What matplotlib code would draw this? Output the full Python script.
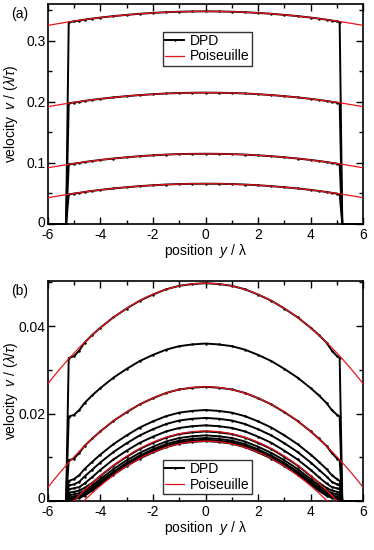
"""
Velocity profiles across the channel: DPD data against Poiseuille fits.
Two stacked panels, (a) and (b).
"""

import numpy as np
import matplotlib.pyplot as plt
from matplotlib.ticker import MultipleLocator
from matplotlib.transforms import ScaledTranslation

plt.rcParams['font.family'] = ['Liberation Sans', 'DejaVu Sans']
plt.rcParams['mathtext.fontset'] = 'custom'
plt.rcParams['mathtext.it'] = 'Liberation Sans:italic'
plt.rcParams['mathtext.rm'] = 'Liberation Sans'
plt.rcParams['font.size'] = 10

# positions across the channel where the DPD profile is non-zero
Y_PROFILE = [-5.2, -5.0, -4.8, -4.6, -4.3, -4.0, -3.5, -3.0, -2.5, -2.0, -1.5, -1.0, -0.5,
             0.0, 0.5, 1.0, 1.5, 2.0, 2.5, 3.0, 3.5, 4.0, 4.3, 4.6, 4.8, 5.0, 5.1]
# positions inside the walls (velocity zero)
Y_WALL_L = [-6.0, -5.9, -5.8, -5.7, -5.6, -5.5, -5.4, -5.3]
Y_WALL_R = [5.2, 5.3, 5.4, 5.5, 5.6, 5.7, 5.8, 5.9, 6.0]

# DPD half profiles, centre -> wall (|y| = 0, .5, 1, ... 4, 4.3, 4.6, 4.8, 5.0, 5.2)
DPD_A = [
    [0.348, 0.3478, 0.3474, 0.3466, 0.3454, 0.3440, 0.3422, 0.3402, 0.3378, 0.3362, 0.3344, 0.3330, 0.3316, 0.3302],
    [0.215, 0.2148, 0.2144, 0.2136, 0.2124, 0.2110, 0.2092, 0.2072, 0.2048, 0.2032, 0.2014, 0.2000, 0.1988, 0.1976],
    [0.115, 0.1148, 0.1144, 0.1136, 0.1124, 0.1110, 0.1092, 0.1072, 0.1048, 0.1032, 0.1014, 0.1000, 0.0988, 0.0976],
    [0.066, 0.0658, 0.0654, 0.0646, 0.0634, 0.0620, 0.0602, 0.0582, 0.0558, 0.0542, 0.0524, 0.0510, 0.0498, 0.0486],
]
DPD_B = [
    [0.0498, 0.0496, 0.0492, 0.0484, 0.0472, 0.0458, 0.0440, 0.0420, 0.0396, 0.0380, 0.0362, 0.0344, 0.0331, 0.0327],
    [0.0360, 0.0358, 0.0354, 0.0346, 0.0334, 0.0320, 0.0302, 0.0282, 0.0258, 0.0242, 0.0224, 0.0208, 0.0197, 0.0193],
    [0.0261, 0.0259, 0.0255, 0.0247, 0.0235, 0.0221, 0.0203, 0.0183, 0.0159, 0.0143, 0.0126, 0.0110, 0.0097, 0.0093],
    [0.0208, 0.0206, 0.0202, 0.0194, 0.0182, 0.0168, 0.0150, 0.0130, 0.0106, 0.0090, 0.0073, 0.0059, 0.0050, 0.0046],
    [0.0190, 0.0188, 0.0184, 0.0176, 0.0164, 0.0150, 0.0132, 0.0112, 0.0088, 0.0072, 0.0056, 0.0044, 0.0038, 0.0036],
    [0.0173, 0.0171, 0.0167, 0.0159, 0.0147, 0.0133, 0.0115, 0.0095, 0.0071, 0.0055, 0.0040, 0.0032, 0.0029, 0.0027],
    [0.0159, 0.0157, 0.0153, 0.0145, 0.0133, 0.0119, 0.0101, 0.0081, 0.0057, 0.0042, 0.0030, 0.0024, 0.0021, 0.0019],
    [0.0150, 0.0148, 0.0144, 0.0136, 0.0124, 0.0110, 0.0093, 0.0073, 0.0050, 0.0036, 0.0024, 0.0018, 0.0015, 0.0013],
    [0.0144, 0.0142, 0.0138, 0.0130, 0.0118, 0.0104, 0.0087, 0.0067, 0.0045, 0.0031, 0.0019, 0.0013, 0.0010, 0.0008],
    [0.0140, 0.0138, 0.0134, 0.0126, 0.0114, 0.0100, 0.0083, 0.0063, 0.0041, 0.0027, 0.0015, 0.0009, 0.0006, 0.0005],
    [0.0137, 0.0135, 0.0131, 0.0123, 0.0111, 0.0097, 0.0080, 0.0060, 0.0038, 0.0024, 0.0012, 0.0007, 0.0004, 0.0003],
]

# Poiseuille fits: centre velocity, common curvature
POIS_A = [0.348, 0.215, 0.115, 0.066]
POIS_B = [0.0498, 0.0261, 0.0160, 0.0137]
POIS_CURV = 0.00064

X_TICKS = [-6, -4, -2, 0, 2, 4, 6]
X_TICK_LABELS = ['-6', '-4', '-2', '0', '2', '4', '6']


def full_profile(half):
    vals = half[::-1] + half[1:]
    x = Y_WALL_L + Y_PROFILE + Y_WALL_R
    v = [0.0] * len(Y_WALL_L) + vals + [0.0] * len(Y_WALL_R)
    return x, v


def draw_panel(fig, ax, dpd, pois, ymax, ymajor, yticklabels, legend_top, tag):
    yy = np.linspace(-6, 6, 300)
    for k, half in enumerate(dpd):
        x, v = full_profile(half)
        ax.plot(x, v, color='black', lw=1.4, marker='.', ms=1.6,
                label='DPD' if k == 0 else None, zorder=2)
    for k, c in enumerate(pois):
        ax.plot(yy, c - POIS_CURV * yy**2, color='#e8141b', lw=0.9,
                label='Poiseuille' if k == 0 else None, zorder=3)

    ax.set_xlim(-6, 6)
    ax.set_ylim(0, ymax)
    ax.set_xticks(X_TICKS)
    ax.set_xticklabels(X_TICK_LABELS)
    ax.xaxis.set_minor_locator(MultipleLocator(1))
    ticks = [ymajor * i for i in range(len(yticklabels))]
    ax.set_yticks(ticks)
    ax.set_yticklabels(yticklabels)
    ax.yaxis.set_minor_locator(MultipleLocator(ymajor / 2))
    ax.tick_params(which='both', direction='in', top=True, right=True, width=1.0,
                   labelsize=10)
    ax.tick_params(axis='x', pad=3)
    ax.tick_params(axis='y', pad=1.5)
    ax.tick_params(which='major', length=5)
    ax.tick_params(which='minor', length=3)
    for sp in ax.spines.values():
        sp.set_linewidth(1.2)

    # lift the "0" on the y axis a little so it clears the "-6" below it
    zero_lbl = ax.get_yticklabels()[0]
    zero_lbl.set_transform(zero_lbl.get_transform()
                           + ScaledTranslation(0, 3 / 100, fig.dpi_scale_trans))

    ax.set_xlabel(r'position  $y$ / λ', labelpad=0)
    ax.set_ylabel(r'velocity  $v$ / ($\lambda/\tau$)')
    ax.yaxis.set_label_coords(-0.088, 0.5)

    leg = ax.legend(loc='upper left', bbox_to_anchor=(0.365, legend_top),
                    frameon=True, fancybox=False, handlelength=1.4,
                    borderpad=0.15, labelspacing=0.1, handletextpad=0.4,
                    borderaxespad=0, fontsize=10)
    leg.get_frame().set_edgecolor('black')
    leg.get_frame().set_linewidth(1.0)

    ax.text(-0.115, 0.985, tag, transform=ax.transAxes, ha='left', va='top', fontsize=10)


fig = plt.figure(figsize=(3.74, 5.5), dpi=100)
ax_a = fig.add_axes([0.1275, 0.5927, 0.844, 0.4])
ax_b = fig.add_axes([0.1275, 0.0891, 0.844, 0.4])

draw_panel(fig, ax_a, DPD_A, POIS_A, 0.36, 0.1, ['0', '0.1', '0.2', '0.3'], 0.873, '(a)')
draw_panel(fig, ax_b, DPD_B, POIS_B, 0.0503, 0.02, ['0', '0.02', '0.04'], 0.186, '(b)')

fig.savefig('out.png', dpi=100)
